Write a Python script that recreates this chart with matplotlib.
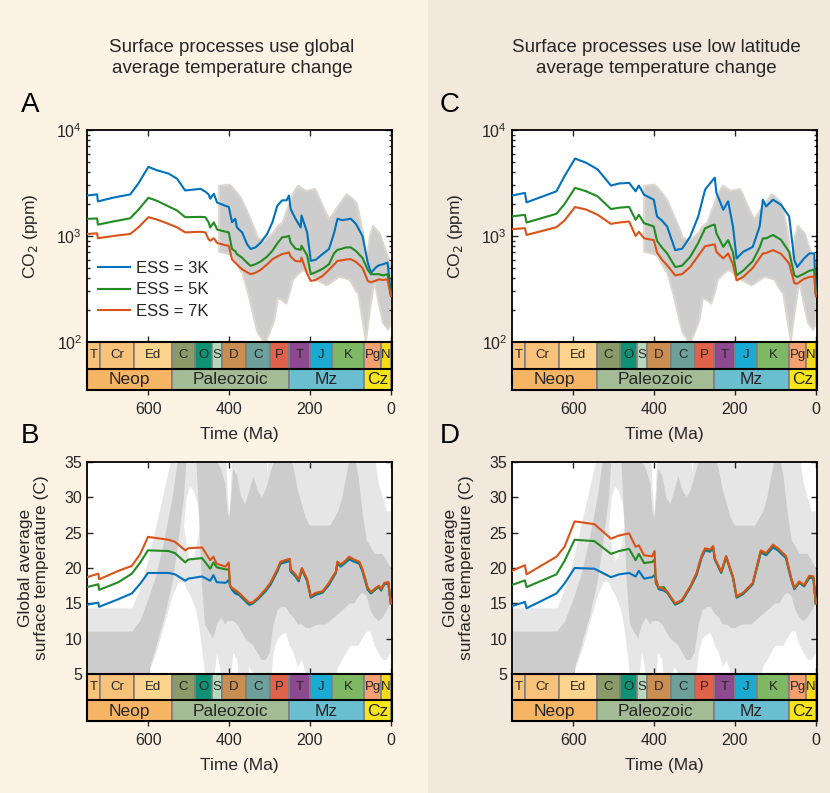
import numpy as np
import matplotlib.pyplot as plt
from matplotlib.patches import Rectangle

plt.rcParams['font.family'] = ['Liberation Sans', 'DejaVu Sans']
plt.rcParams['text.color'] = '#262626'
plt.rcParams['axes.labelcolor'] = '#262626'
plt.rcParams['xtick.color'] = '#262626'
plt.rcParams['ytick.color'] = '#262626'

# ---------------- CO2 model curves, panel A (global temperature) ----------------
t_A = [752, 727, 725, 687, 645, 625, 600, 579, 550, 529, 509, 488, 471, 459, 451, 447, 438,
       430, 410, 401, 393, 385, 381, 368, 356, 347, 335, 322, 306, 293, 281, 269, 258, 252,
       248, 236, 223, 221, 207, 198, 186, 169, 153, 140, 132, 120, 111, 99, 86, 70, 57, 49,
       37, 29, 19, 8, 0]
co2_A_3K = [2410, 2470, 2120, 2300, 2470, 3120, 4490, 4170, 3880, 3470, 2690, 2740, 2790, 2620,
            2470, 2250, 2500, 2070, 1930, 1880, 1350, 1455, 1205, 1080, 840, 755, 780, 867, 1047,
            1350, 1930, 2170, 2170, 2410, 1795, 1455, 1205, 1560, 1080, 582, 597, 675, 753, 1080,
            1455, 1410, 1430, 1455, 1295, 998, 561, 449, 505, 530, 542, 561, 294]
co2_A_5K = [1450, 1465, 1280, 1370, 1470, 1765, 2295, 2150, 1900, 1740, 1505, 1510, 1515, 1505,
            1345, 1205, 1345, 1150, 1100, 1082, 753, 720, 675, 624, 560, 523, 542, 575, 640, 726,
            850, 971, 985, 1005, 867, 760, 740, 809, 655, 436, 455, 490, 542, 690, 740, 760, 780,
            780, 720, 620, 480, 436, 436, 436, 425, 436, 281]
co2_A_7K = [1045, 1060, 953, 1000, 1045, 1205, 1505, 1430, 1300, 1205, 1082, 1090, 1096, 1082,
            931, 903, 953, 860, 820, 809, 600, 561, 540, 485, 455, 436, 450, 480, 540, 604, 640,
            675, 690, 702, 640, 580, 575, 624, 440, 377, 385, 419, 480, 540, 582, 590, 600, 604,
            570, 500, 377, 365, 380, 390, 385, 390, 271]

# ---------------- CO2 model curves, panel C (low latitude temperature) ----------------
t_C = [752, 720, 716, 642, 622, 596, 569, 540, 507, 487, 462, 446, 438, 425, 401, 393, 381, 368,
       348, 331, 311, 291, 274, 254, 250, 246, 229, 217, 205, 196, 180, 156, 139, 131, 123, 106,
       86, 66, 53, 46, 29, 16, 4, 0]
co2_C_3K = [2405, 2550, 2075, 2640, 3670, 5375, 4920, 4250, 2990, 3130, 3170, 2640, 2990, 2450,
            2200, 1530, 1400, 1230, 736, 758, 984, 1530, 2740, 3410, 3550, 2550, 1770, 2125, 1230,
            614, 708, 790, 1230, 2200, 1900, 2200, 1970, 1530, 590, 510, 614, 685, 685, 285]
co2_C_5K = [1530, 1585, 1340, 1620, 2000, 2845, 2650, 2365, 1795, 1850, 1880, 1420, 1585, 1320,
            1230, 900, 780, 685, 510, 525, 635, 860, 1180, 1275, 1275, 1060, 790, 916, 700, 425,
            470, 580, 780, 950, 950, 1023, 920, 708, 425, 410, 441, 470, 482, 285]
co2_C_7K = [1160, 1185, 1023, 1210, 1400, 1875, 1780, 1585, 1300, 1340, 1370, 1000, 1096, 950,
            916, 700, 600, 530, 425, 437, 510, 650, 800, 830, 830, 708, 614, 685, 540, 381, 410,
            500, 620, 685, 690, 736, 680, 550, 359, 355, 395, 410, 416, 269]

# ---------------- CO2 proxy envelope (same in A and C) ----------------
t_env_co2 = [426, 401, 393, 376, 368, 352, 335, 331, 318, 314, 310, 293, 289, 281, 269, 260,
             248, 244, 231, 219, 211, 190, 186, 173, 161, 153, 132, 128, 111, 103, 86, 82, 70,
             63, 62, 53, 45, 41, 29, 20, 12, 8, 0]
co2_env_hi = [3010, 3080, 2900, 2410, 2150, 1560, 1100, 975, 930, 910, 940, 1070, 1120, 1250,
              1355, 1700, 2220, 2500, 3010, 2800, 2680, 2810, 2700, 2070, 1650, 1455, 1930, 2000,
              2500, 2400, 2070, 1800, 1070, 620, 561, 1000, 1265, 1200, 1070, 850, 702, 640, 518]
co2_env_lo = [720, 680, 655, 500, 449, 271, 142, 125, 105, 103, 102, 150, 166, 263, 250, 233,
              330, 390, 440, 482, 470, 400, 390, 370, 347, 360, 410, 419, 400, 390, 300, 294, 152,
              105, 110, 202, 320, 363, 217, 152, 140, 132, 152]

# ---------------- temperature curves, panel B ----------------
t_B = [752, 724, 722, 674, 641, 620, 601, 550, 534, 509, 501, 467, 447, 439, 431, 409, 401, 398,
       393, 385, 376, 351, 343, 327, 310, 298, 281, 273, 256, 250, 248, 236, 228, 220, 207, 198,
       186, 169, 153, 136, 132, 124, 111, 103, 91, 78, 70, 57, 49, 37, 29, 24, 16, 6, 0]
temp_B_3K = [14.8, 15.1, 14.5, 15.6, 16.4, 17.8, 19.3, 19.3, 19.1, 18.2, 18.5, 18.8, 18.2, 19.0,
             18.0, 17.9, 18.3, 17.6, 16.9, 16.4, 16.2, 14.8, 14.9, 15.7, 16.7, 17.6, 19.5, 20.6,
             20.9, 21.0, 19.5, 18.8, 18.1, 19.8, 18.1, 15.8, 16.2, 16.5, 17.6, 19.3, 20.6, 20.2,
             20.8, 21.2, 20.9, 20.6, 19.5, 16.9, 16.4, 17.0, 17.3, 16.8, 17.7, 17.8, 15.0]
temp_B_5K = [17.3, 17.7, 16.9, 18.0, 19.2, 20.8, 22.5, 22.4, 22.1, 20.8, 21.2, 21.4, 19.9, 20.8,
             20.1, 19.8, 19.8, 17.4, 17.1, 16.7, 16.4, 15.0, 15.0, 15.8, 16.9, 17.8, 19.7, 20.8,
             21.1, 21.2, 19.7, 19.0, 18.3, 19.9, 18.3, 15.9, 16.4, 16.6, 17.8, 19.4, 20.8, 20.4,
             21.0, 21.5, 21.1, 20.8, 19.7, 17.1, 16.5, 17.1, 17.4, 16.9, 17.8, 17.9, 15.0]
temp_B_7K = [18.7, 19.2, 18.4, 19.6, 20.3, 22.0, 24.4, 24.0, 23.7, 22.5, 22.8, 22.9, 21.1, 21.6,
             20.6, 20.2, 20.8, 17.5, 17.2, 16.9, 16.5, 15.1, 15.1, 15.9, 17.0, 17.9, 19.8, 20.9,
             21.2, 21.3, 19.8, 19.1, 18.4, 20.0, 18.4, 16.0, 16.5, 16.7, 17.9, 19.5, 20.9, 20.5,
             21.1, 21.6, 21.2, 20.9, 19.8, 17.2, 16.6, 17.2, 17.5, 17.0, 17.9, 18.0, 15.0]

# ---------------- temperature curves, panel D ----------------
t_D = [752, 720, 716, 642, 622, 597, 548, 507, 487, 462, 446, 438, 425, 405, 399, 396, 389, 376,
       368, 348, 331, 311, 295, 283, 274, 262, 254, 250, 234, 222, 205, 196, 180, 156, 136, 123,
       106, 94, 74, 61, 53, 41, 29, 16, 6, 0]
temp_D_3K = [14.6, 15.2, 14.3, 16.4, 17.8, 20.0, 19.9, 18.7, 19.1, 19.3, 18.8, 19.6, 18.5, 18.7,
             19.0, 18.6, 17.0, 16.8, 16.5, 14.8, 15.3, 17.2, 19.0, 21.4, 22.5, 22.3, 22.8, 21.2,
             19.3, 21.5, 18.6, 15.8, 16.3, 17.7, 22.2, 21.8, 22.9, 22.5, 21.4, 18.4, 17.0, 17.9,
             17.4, 18.6, 18.6, 15.0]
temp_D_5K = [17.6, 18.25, 17.3, 19.1, 21.0, 24.0, 23.8, 22.0, 22.4, 22.7, 21.1, 22.0, 20.7, 20.85,
             21.2, 17.8, 17.2, 17.3, 16.6, 14.9, 15.4, 17.3, 19.2, 21.6, 22.7, 22.5, 23.0, 21.3,
             19.4, 21.6, 18.7, 15.9, 16.4, 17.8, 22.4, 22.0, 23.2, 22.7, 21.6, 18.5, 17.1, 18.0,
             17.5, 18.8, 18.7, 15.0]
temp_D_7K = [19.6, 20.4, 19.1, 21.6, 23.0, 26.6, 26.2, 24.15, 24.6, 24.9, 23.0, 23.2, 21.8, 21.65,
             22.4, 18.0, 17.3, 17.0, 16.7, 15.0, 15.5, 17.4, 19.3, 21.7, 22.8, 22.6, 23.1, 21.4,
             19.5, 21.7, 18.8, 16.0, 16.5, 17.9, 22.5, 22.1, 23.3, 22.8, 21.7, 18.6, 17.2, 18.1,
             17.6, 18.9, 18.8, 15.0]

# ---------------- temperature proxy envelopes (same in B and D) ----------------
t_env_T = [752, 640, 620, 600, 580, 560, 540, 525, 512, 505,
           495, 482, 475, 468, 460, 450, 440, 430, 420, 410,
           404, 400, 396, 390, 380, 370, 360, 350, 340, 330,
           320, 310, 305, 300, 290, 280, 270, 260, 250, 240,
           230, 220, 210, 200, 190, 180, 170, 160, 150, 140,
           130, 120, 110, 100, 90, 80, 70, 60, 50, 40,
           30, 20, 10, 0]
T_light_lo = [0, 0, 0, 5, 8, 12, 16, 18, 18, 17,
              16, 14, 12, 9, 5, 2, 3, 8, 5, 0,
              1, 2, 4, 8, 7, 0, 3, 6, 5, 4,
              0, 0, 1, 2, 8, 10, 10.5, 10.8, 9, 8,
              6, 7, 5, 4, 2, 0, 0, 0, 2, 4,
              6, 7, 8, 9, 9, 9, 10, 11, 11, 9,
              8, 7, 7, 8]
T_dark_lo = [0, 0, 2, 5, 9, 13, 18, 24, 30, 36,
             40, 36, 28, 18, 12, 11, 10, 12, 13, 12,
             12.5, 12.5, 12.5, 12.5, 12, 11, 10, 9.5, 9, 8,
             7, 7, 7.5, 8, 12, 14, 14.5, 14.5, 13.5, 13,
             12, 12, 11.5, 11.5, 11.8, 12, 12, 12, 12.5, 13,
             13.5, 14, 14.5, 15, 15, 16, 16.5, 16, 14, 13,
             12.5, 13, 14, 15]
T_dark_hi = [11, 11, 12.5, 15.5, 19, 24, 30, 36, 42, 45,
             45, 45, 45, 45, 40, 38, 36, 35, 34, 32,
             28, 27, 29, 34, 33, 30, 29, 31, 33, 31,
             30, 31, 32, 33, 35, 36, 37, 37, 36, 34,
             31, 29, 27, 26, 26, 26, 26, 26, 26, 27,
             28, 30, 33, 36, 36, 33, 28, 24, 23, 22,
             22, 22, 21, 20]
T_light_hi = [14.3, 14.3, 17, 21, 26, 31, 36, 40, 40, 40,
              40, 40, 40, 40, 40, 40, 40, 40, 40, 40,
              31, 27.5, 31, 40, 40, 40, 40, 40, 40, 40,
              40, 40, 33, 40, 40, 40, 40, 40, 40, 40,
              40, 40, 40, 40, 40, 40, 40, 40, 40, 40,
              40, 40, 40, 40, 40, 40, 40, 40, 38, 36,
              32, 30, 28, 28]
# hole inside the light band near 490 Ma
t_gap_T = [512, 505, 497, 488, 478, 472]
T_gap_lo = [26, 23, 21, 21.5, 24, 26]
T_gap_hi = [26, 30, 31.5, 31, 29, 26]

# ---------------- geologic time scale ----------------
period_names = ['T', 'Cr', 'Ed', 'C', 'O', 'S', 'D', 'C', 'P', 'T', 'J', 'K', 'Pg', 'N']
period_start = [1000, 720, 635, 541, 485, 443, 419, 359, 299, 252, 201, 145, 66, 23]
period_end = [720, 635, 541, 485, 443, 419, 359, 299, 252, 201, 145, 66, 23, 0]
period_colors = ['#F8C27A', '#F8C27A', '#FCD48E', '#8A9A68', '#0E9273', '#B8D8BE', '#C98E52',
                 '#6D9F9B', '#E0624B', '#8E4A90', '#1BAAD2', '#7FB865', '#F5A071', '#F7D917']
era_names = ['Neop', 'Paleozoic', 'Mz', 'Cz']
era_start = [1000, 541, 252, 66]
era_end = [541, 252, 66, 0]
era_colors = ['#F6B565', '#A3BC95', '#6BBDD0', '#F8E51A']

blue, green, red = '#0072BD', '#228B22', '#D95319'
XLIM = (752, -3)


def main_axes(ax):
    ax.set_xlim(*XLIM)
    ax.set_xticks([600, 400, 200, 0])
    ax.tick_params(which='both', direction='in', top=True, right=True, labelbottom=False,
                   labelsize=11.5, width=1)
    ax.tick_params(which='major', length=4)
    ax.tick_params(which='minor', length=2.5)
    for s in ax.spines.values():
        s.set_linewidth(1.3)
        s.set_color('black')


def timescale(ax):
    ax.set_xlim(*XLIM)
    ax.set_ylim(0, 2)
    ax.set_yticks([])
    lo, hi = min(XLIM), max(XLIM)
    for name, s, e, c in zip(period_names, period_start, period_end, period_colors):
        ax.add_patch(Rectangle((e, 0.88), s - e, 1.12, facecolor=c, edgecolor='#7f7f7f', lw=1.2))
        xc = (min(s, hi) + max(e, lo)) / 2
        ax.text(xc, 1.44, name, ha='center', va='center', fontsize=9.5, clip_on=True)
    for name, s, e, c in zip(era_names, era_start, era_end, era_colors):
        ax.add_patch(Rectangle((e, 0), s - e, 0.88, facecolor=c, edgecolor='#7f7f7f', lw=1.2))
        xc = (min(s, hi) + max(e, lo)) / 2
        ax.text(xc, 0.42, name, ha='center', va='center', fontsize=12.5, clip_on=True)
    ax.axhline(0.88, color='black', lw=1.5)
    for s in ax.spines.values():
        s.set_linewidth(1.5)
        s.set_color('black')
    ax.set_xticks([600, 400, 200, 0])
    ax.tick_params(axis='x', direction='out', length=3.5, width=1, labelsize=11.5, pad=5)
    ax.set_xlabel('Time (Ma)', fontsize=12.5, labelpad=7)


def co2_panel(ax, t, b, g, r, legend=False):
    ax.fill_between(t_env_co2, co2_env_lo, co2_env_hi, facecolor='#cdcdcd',
                    edgecolor='#dcd6cc', lw=1.5, zorder=1)
    ax.plot(t, b, color=blue, lw=1.5, zorder=3, label='ESS = 3K')
    ax.plot(t, g, color=green, lw=1.5, zorder=3, label='ESS = 5K')
    ax.plot(t, r, color=red, lw=1.5, zorder=3, label='ESS = 7K')
    ax.set_yscale('log')
    ax.set_ylim(100, 10000)
    main_axes(ax)
    ax.set_ylabel('CO$_2$ (ppm)', fontsize=12.5)
    ax.yaxis.set_label_coords(-0.155, 0.5)
    if legend:
        ax.legend(loc='upper left', bbox_to_anchor=(0.014, 0.415), frameon=False, fontsize=12,
                  handlelength=1.9, handletextpad=0.4, labelspacing=0.4, borderaxespad=0)


def temp_panel(ax, t, b, g, r):
    ax.fill_between(t_env_T, T_light_lo, T_light_hi, facecolor='#e6e6e6', lw=0, zorder=1)
    ax.fill_between(t_gap_T, T_gap_lo, T_gap_hi, facecolor='white', lw=0, zorder=1.5)
    ax.fill_between(t_env_T, T_dark_lo, T_dark_hi, facecolor='#cccccc', lw=0, zorder=2)
    ax.plot(t, b, color=blue, lw=1.5, zorder=3)
    ax.plot(t, g, color=green, lw=1.5, zorder=3)
    ax.plot(t, r, color=red, lw=1.5, zorder=3)
    ax.set_ylim(5, 35)
    ax.set_yticks([5, 10, 15, 20, 25, 30, 35])
    main_axes(ax)
    ax.set_ylabel('Global average\nsurface temperature (C)', fontsize=12.5, linespacing=1.05)
    ax.yaxis.set_label_coords(-0.125, 0.5)


W, H = 830, 793
fig = plt.figure(figsize=(W / 100, H / 100), dpi=100)
fig.patch.set_facecolor('#FDF3E4')
fig.add_artist(Rectangle((428 / W, 0), 1 - 428 / W, 1, transform=fig.transFigure,
                         facecolor='#F2E8DC', edgecolor='none', zorder=-5))


def box(left, top, right, bottom):
    return [left / W, 1 - bottom / H, (right - left) / W, (bottom - top) / H]


axA = fig.add_axes(box(87, 130, 392, 342))
tsA = fig.add_axes(box(87, 342, 392, 390))
axB = fig.add_axes(box(87, 462, 392, 674))
tsB = fig.add_axes(box(87, 674, 392, 721))
axC = fig.add_axes(box(512, 130, 817, 342))
tsC = fig.add_axes(box(512, 342, 817, 390))
axD = fig.add_axes(box(512, 462, 817, 674))
tsD = fig.add_axes(box(512, 674, 817, 721))

co2_panel(axA, t_A, co2_A_3K, co2_A_5K, co2_A_7K, legend=True)
co2_panel(axC, t_C, co2_C_3K, co2_C_5K, co2_C_7K)
temp_panel(axB, t_B, temp_B_3K, temp_B_5K, temp_B_7K)
temp_panel(axD, t_D, temp_D_3K, temp_D_5K, temp_D_7K)
for ts in (tsA, tsB, tsC, tsD):
    timescale(ts)

fig.text(232 / W, 1 - 58 / H, 'Surface processes use global\naverage temperature change',
         ha='center', va='center', fontsize=13.5, linespacing=1.35)
fig.text(656 / W, 1 - 58 / H, 'Surface processes use low latitude\naverage temperature change',
         ha='center', va='center', fontsize=13.5, linespacing=1.35)
for lab, x, y in [('A', 30, 105), ('B', 30, 436), ('C', 450, 105), ('D', 450, 436)]:
    fig.text(x / W, 1 - y / H, lab, ha='center', va='center', fontsize=20, color='black')

fig.savefig('out.png', dpi=100, facecolor=fig.get_facecolor())
